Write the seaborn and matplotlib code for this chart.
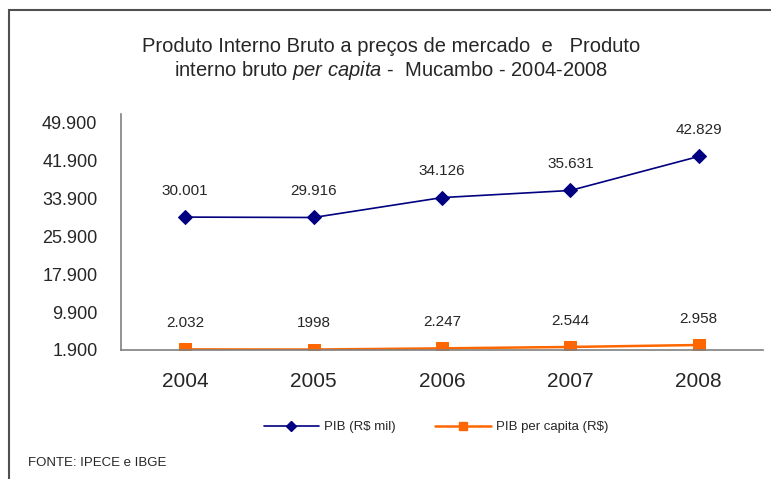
import matplotlib
matplotlib.use("Agg")
import matplotlib.pyplot as plt
import matplotlib.ticker as mticker
from matplotlib.lines import Line2D
from matplotlib.patches import Rectangle
import seaborn as sns
import pandas as pd

sns.set_style("white")
plt.rcParams['font.family'] = ['Liberation Sans', 'DejaVu Sans']
plt.rcParams['mathtext.fontset'] = 'custom'
plt.rcParams['mathtext.it'] = 'Liberation Sans:italic'
plt.rcParams['mathtext.rm'] = 'Liberation Sans'

years = ["2004", "2005", "2006", "2007", "2008"]
pib = [30001, 29916, 34126, 35631, 42829]
pib_pc = [2032, 1998, 2247, 2544, 2958]
pib_labels = ["30.001", "29.916", "34.126", "35.631", "42.829"]
pib_pc_labels = ["2.032", "1998", "2.247", "2.544", "2.958"]
y_ticks = [1900, 9900, 17900, 25900, 33900, 41900, 49900]

navy = "#000080"
orange = "#FF6600"

df = pd.DataFrame({"ano": years, "pib": pib, "pib_pc": pib_pc})

fig = plt.figure(figsize=(7.71, 4.79), dpi=100)
ax = fig.add_axes([121 / 771, 1 - 350 / 479, (763 - 121) / 771, (350 - 114) / 479])

sns.lineplot(data=df, x="ano", y="pib", ax=ax, color=navy, marker="D",
             markersize=7, markeredgecolor=navy, linewidth=1.2)
sns.lineplot(data=df, x="ano", y="pib_pc", ax=ax, color=orange, marker="s",
             markersize=8, markeredgecolor=orange, linewidth=1.8)

for i in range(len(years)):
    ax.annotate(pib_labels[i], (i, pib[i]), xytext=(0, 19), textcoords="offset points",
                ha="center", va="center", fontsize=11)
    ax.annotate(pib_pc_labels[i], (i, pib_pc[i]), xytext=(0, 19), textcoords="offset points",
                ha="center", va="center", fontsize=11)

ax.set_xlim(-0.5, 4.5)
ax.set_ylim(1900, 51800)
ax.set_yticks(y_ticks)
ax.yaxis.set_major_formatter(mticker.FuncFormatter(lambda v, p: f"{int(v):,}".replace(",", ".")))
ax.set_xticks(range(len(years)))
ax.set_xticklabels(years)
ax.set_xticks([i - 0.5 for i in range(len(years) + 1)], minor=True)
ax.tick_params(axis="x", which="major", length=0, labelsize=15, pad=16)
ax.tick_params(axis="x", which="minor", length=5, direction="out", color="#808080", width=1)
ax.tick_params(axis="y", length=5, direction="out", color="#808080", width=1, labelsize=13, pad=12)
ax.set_xlabel("")
ax.set_ylabel("")
for s in ["top", "right"]:
    ax.spines[s].set_visible(False)
for s in ["left", "bottom"]:
    ax.spines[s].set_color("#808080")
    ax.spines[s].set_linewidth(1.2)

fig.text(391 / 771, 1 - 46 / 479, "Produto Interno Bruto a preços de mercado  e   Produto",
         ha="center", va="center", fontsize=14.5)
fig.text(391 / 771, 1 - 71 / 479, r"interno bruto $\it{per\ capita}$ -  Mucambo - 2004-2008",
         ha="center", va="center", fontsize=14.5)

handles = [
    Line2D([], [], color=navy, marker="D", markersize=5, linewidth=1.2),
    Line2D([], [], color=orange, marker="s", markersize=6, linewidth=1.8),
]
fig.legend(handles, ["PIB (R$ mil)", "PIB per capita (R$)"], loc="center",
           bbox_to_anchor=(436 / 771, 1 - 427 / 479), ncol=2, frameon=False,
           fontsize=9.5, handlelength=4.2, columnspacing=3, handletextpad=0.4)

fig.text(28 / 771, 1 - 463 / 479, "FONTE: IPECE e IBGE", ha="left", va="center", fontsize=9.5)

fig.patches.append(Rectangle((9 / 771, -0.2), 1.2, 1 - 10 / 479 + 0.2, transform=fig.transFigure,
                             fill=False, edgecolor="#505050", linewidth=1.5))

fig.savefig("out.png", dpi=100)
